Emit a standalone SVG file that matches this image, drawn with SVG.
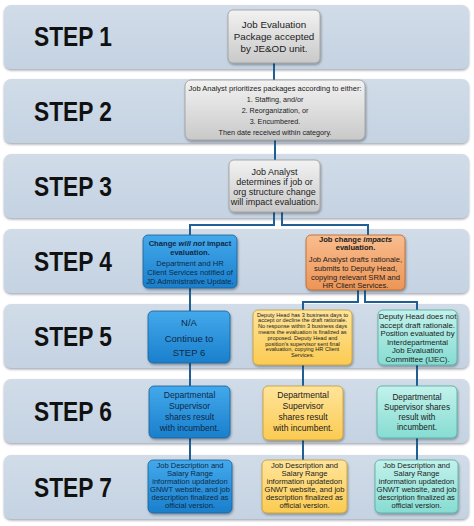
<svg xmlns="http://www.w3.org/2000/svg" width="474" height="526" viewBox="0 0 474 526">
<defs>
<linearGradient id="gBand" x1="0" y1="0" x2="0" y2="1"><stop offset="0" stop-color="#d1dce8"/><stop offset="1" stop-color="#c4d2e2"/></linearGradient>
<linearGradient id="gGrey" x1="0" y1="0" x2="0" y2="1"><stop offset="0" stop-color="#f2f2f2"/><stop offset="1" stop-color="#c9c9c9"/></linearGradient>
<linearGradient id="gBlue" x1="0" y1="0" x2="0" y2="1"><stop offset="0" stop-color="#43a9ec"/><stop offset="1" stop-color="#1a7fcc"/></linearGradient>
<linearGradient id="gOrange" x1="0" y1="0" x2="0" y2="1"><stop offset="0" stop-color="#f9bd8f"/><stop offset="1" stop-color="#ec9556"/></linearGradient>
<linearGradient id="gYellow" x1="0" y1="0" x2="0" y2="1"><stop offset="0" stop-color="#ffe49a"/><stop offset="1" stop-color="#fbcb52"/></linearGradient>
<linearGradient id="gTeal" x1="0" y1="0" x2="0" y2="1"><stop offset="0" stop-color="#c2f2ec"/><stop offset="1" stop-color="#86dcd2"/></linearGradient>
<filter id="sh" x="-10%" y="-10%" width="125%" height="130%"><feDropShadow dx="0.8" dy="1.5" stdDeviation="1" flood-color="#000" flood-opacity="0.35"/></filter>
<filter id="shB" x="-5%" y="-10%" width="110%" height="125%"><feDropShadow dx="0" dy="1.5" stdDeviation="0.8" flood-color="#6a7380" flood-opacity="0.6"/></filter>
</defs>
<style>
.band{fill:url(#gBand);filter:url(#shB)}
.step{font-family:"Liberation Sans",Arial,sans-serif;font-weight:bold;font-size:27.5px;fill:#111;text-anchor:middle}
.grey{fill:url(#gGrey);stroke:#9a9a9a;stroke-width:0.8;filter:url(#sh)}
.blue{fill:url(#gBlue);stroke:#1d5f96;stroke-width:0.8;filter:url(#sh)}
.orange{fill:url(#gOrange);stroke:#b8652c;stroke-width:0.8;filter:url(#sh)}
.yellow{fill:url(#gYellow);stroke:#c49a34;stroke-width:0.8;filter:url(#sh)}
.teal{fill:url(#gTeal);stroke:#52aaa0;stroke-width:0.8;filter:url(#sh)}
.t{font-family:"Liberation Sans",Arial,sans-serif;text-anchor:middle;fill:#1b1b1b}
.tb{fill:#0e2a48}
.conn{fill:none;stroke:#1f5f93;stroke-width:2}
</style>

<g id="bands">
<rect class="band" x="4" y="5" width="465" height="64" rx="7"/>
<rect class="band" x="4" y="79" width="465" height="64" rx="7"/>
<rect class="band" x="4" y="154" width="465" height="64" rx="7"/>
<rect class="band" x="4" y="229" width="465" height="64" rx="7"/>
<rect class="band" x="4" y="304" width="465" height="64" rx="7"/>
<rect class="band" x="4" y="379" width="465" height="64" rx="7"/>
<rect class="band" x="4" y="455" width="465" height="64" rx="7"/>
<text class="step" x="73" y="46" textLength="78" lengthAdjust="spacingAndGlyphs">STEP 1</text>
<text class="step" x="73" y="121" textLength="78" lengthAdjust="spacingAndGlyphs">STEP 2</text>
<text class="step" x="73" y="196" textLength="78" lengthAdjust="spacingAndGlyphs">STEP 3</text>
<text class="step" x="73" y="271" textLength="78" lengthAdjust="spacingAndGlyphs">STEP 4</text>
<text class="step" x="73" y="346" textLength="78" lengthAdjust="spacingAndGlyphs">STEP 5</text>
<text class="step" x="73" y="421" textLength="78" lengthAdjust="spacingAndGlyphs">STEP 6</text>
<text class="step" x="73" y="497" textLength="78" lengthAdjust="spacingAndGlyphs">STEP 7</text>
</g>

<g id="connectors">
<path class="conn" d="M274 63 V80"/>
<path class="conn" d="M275 140 V160"/>
<path class="conn" d="M274 212 V225 H190 V235"/>
<path class="conn" d="M282 212 V225 H368 V235"/>
<path class="conn" d="M190 288 V311"/>
<path class="conn" d="M358 290 V302 H303 V310"/>
<path class="conn" d="M365 290 V302 H417 V310"/>
<path class="conn" d="M190 363 V386"/>
<path class="conn" d="M303 365 V386"/>
<path class="conn" d="M417 365 V386"/>
<path class="conn" d="M190 438 V460"/>
<path class="conn" d="M303 440 V460"/>
<path class="conn" d="M417 438 V460"/>
</g>

<g id="n1">
<rect class="grey" x="228" y="10" width="92" height="53" rx="5"/>
<text class="t" font-size="9.8"><tspan x="274" y="28">Job Evaluation</tspan><tspan x="274" y="40">Package accepted</tspan><tspan x="274" y="52">by JE&amp;OD unit.</tspan></text>
</g>

<g id="n2">
<rect class="grey" x="185" y="80" width="180" height="60" rx="6"/>
<text class="t" font-size="7.2"><tspan x="275" y="90.5" textLength="173" lengthAdjust="spacingAndGlyphs">Job Analyst prioritizes packages according to either:</tspan><tspan x="275" y="101.5">1. Staffing, and/or</tspan><tspan x="275" y="112.5">2. Reorganization, or</tspan><tspan x="275" y="123.5">3. Encumbered.</tspan><tspan x="275" y="134.5">Then date received within category.</tspan></text>
</g>

<g id="n3">
<rect class="grey" x="229" y="160" width="91" height="52" rx="5"/>
<text class="t" font-size="9"><tspan x="274.5" y="175">Job Analyst</tspan><tspan x="274.5" y="185">determines if job or</tspan><tspan x="274.5" y="195">org structure change</tspan><tspan x="274.5" y="205">will impact evaluation.</tspan></text>
</g>

<g id="n4a">
<rect class="blue" x="143" y="235" width="94" height="53" rx="5"/>
<text class="t tb" font-size="7.6"><tspan x="190" y="245.5" font-weight="bold">Change <tspan font-style="italic">will not</tspan> impact</tspan><tspan x="190" y="254.5" font-weight="bold">evaluation.</tspan><tspan x="190" y="265.5">Department and HR</tspan><tspan x="190" y="274.5">Client Services notified of</tspan><tspan x="190" y="283.5">JD Administrative Update.</tspan></text>
</g>

<g id="n4b">
<rect class="orange" x="306" y="235" width="99" height="55" rx="5"/>
<text class="t" font-size="7.6"><tspan x="355.5" y="242" font-weight="bold">Job change <tspan font-style="italic">impacts</tspan></tspan><tspan x="355.5" y="250" font-weight="bold">evaluation.</tspan><tspan x="355.5" y="261.5">Job Analyst drafts rationale,</tspan><tspan x="355.5" y="270.5">submits to Deputy Head,</tspan><tspan x="355.5" y="279.5">copying  relevant SRM and</tspan><tspan x="355.5" y="288">HR Client Services.</tspan></text>
</g>

<g id="n5a">
<rect class="blue" x="148" y="311" width="82" height="52" rx="5"/>
<text class="t tb" font-size="9.5"><tspan x="189" y="325.5">N/A</tspan><tspan x="189" y="341.5">Continue to</tspan><tspan x="189" y="355.5">STEP 6</tspan></text>
</g>

<g id="n5b">
<rect class="yellow" x="253" y="310" width="99" height="55" rx="5"/>
<text class="t" font-size="5.6"><tspan x="302.5" y="316.5">Deputy Head has 3 business days to</tspan><tspan x="302.5" y="322.3">accept or decline the draft rationale.</tspan><tspan x="302.5" y="328.1">No response  within 3 business days</tspan><tspan x="302.5" y="333.9">means the evaluation is finalized as</tspan><tspan x="302.5" y="339.7">proposed.  Deputy Head and</tspan><tspan x="302.5" y="345.5">position’s supervisor sent final</tspan><tspan x="302.5" y="351.3">evaluation, copying HR Client</tspan><tspan x="302.5" y="357.1">Services.</tspan></text>
</g>

<g id="n5c">
<rect class="teal" x="378" y="310" width="79" height="55" rx="5"/>
<text class="t" font-size="7.8"><tspan x="417.5" y="319">Deputy Head does not</tspan><tspan x="417.5" y="327.5">accept draft rationale.</tspan><tspan x="417.5" y="336">Position evaluated by</tspan><tspan x="417.5" y="344.5">Interdepartmental</tspan><tspan x="417.5" y="353">Job Evaluation</tspan><tspan x="417.5" y="361.5">Committee (IJEC).</tspan></text>
</g>

<g id="n6a">
<rect class="blue" x="149" y="386" width="81" height="52" rx="5"/>
<text class="t tb" font-size="8.6"><tspan x="189.5" y="398">Departmental</tspan><tspan x="189.5" y="409">Supervisor</tspan><tspan x="189.5" y="420">shares result</tspan><tspan x="189.5" y="431">with incumbent.</tspan></text>
</g>

<g id="n6b">
<rect class="yellow" x="263" y="386" width="80" height="54" rx="5"/>
<text class="t" font-size="8.6"><tspan x="303" y="398">Departmental</tspan><tspan x="303" y="409">Supervisor</tspan><tspan x="303" y="420">shares result</tspan><tspan x="303" y="431">with incumbent.</tspan></text>
</g>

<g id="n6c">
<rect class="teal" x="377" y="386" width="80" height="52" rx="5"/>
<text class="t" font-size="8.2"><tspan x="417" y="400">Departmental</tspan><tspan x="417" y="410">Supervisor shares</tspan><tspan x="417" y="420">result with</tspan><tspan x="417" y="430">incumbent.</tspan></text>
</g>

<g id="n7a">
<rect class="blue" x="148" y="460" width="84" height="53" rx="5"/>
<text class="t tb" font-size="7.6"><tspan x="190" y="467.5">Job Description and</tspan><tspan x="190" y="475.5">Salary Range</tspan><tspan x="190" y="483.5">information updatedon</tspan><tspan x="190" y="491.5">GNWT website, and job</tspan><tspan x="190" y="499.5">description finalized as</tspan><tspan x="190" y="507.5">official version.</tspan></text>
</g>

<g id="n7b">
<rect class="yellow" x="262" y="460" width="85" height="53" rx="5"/>
<text class="t" font-size="7.6"><tspan x="304.5" y="467.5">Job Description and</tspan><tspan x="304.5" y="475.5">Salary Range</tspan><tspan x="304.5" y="483.5">information updatedon</tspan><tspan x="304.5" y="491.5">GNWT website, and job</tspan><tspan x="304.5" y="499.5">description finalized as</tspan><tspan x="304.5" y="507.5">official version.</tspan></text>
</g>

<g id="n7c">
<rect class="teal" x="375" y="460" width="83" height="53" rx="5"/>
<text class="t" font-size="7.6"><tspan x="416.5" y="467.5">Job Description and</tspan><tspan x="416.5" y="475.5">Salary Range</tspan><tspan x="416.5" y="483.5">information updatedon</tspan><tspan x="416.5" y="491.5">GNWT website, and job</tspan><tspan x="416.5" y="499.5">description finalized as</tspan><tspan x="416.5" y="507.5">official version.</tspan></text>
</g>
</svg>
